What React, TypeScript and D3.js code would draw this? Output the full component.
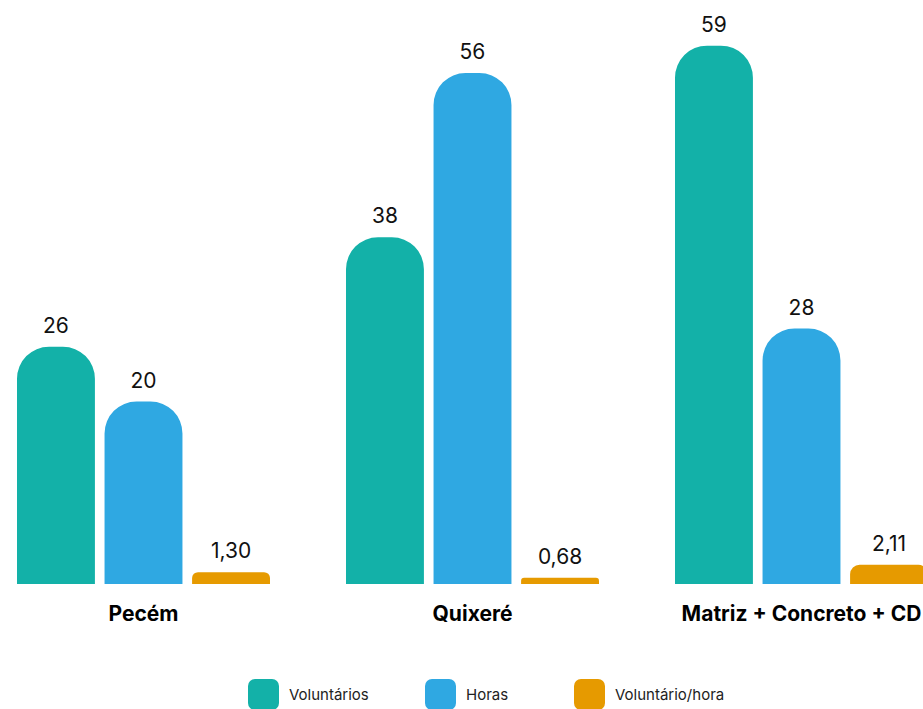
import { scaleBand, scaleLinear } from "d3";

const categories = ["Pecém", "Quixeré", "Matriz + Concreto + CD"];
const seriesNames = ["Voluntários", "Horas", "Voluntário/hora"];
const voluntarios = [26, 38, 59];
const horas = [20, 56, 28];
const voluntarioHora = [1.3, 0.68, 2.11];
const seriesValues = [voluntarios, horas, voluntarioHora];
const colors = ["#13b1a8", "#2fa8e2", "#e69a00"];

const W = 923;
const H = 709;
const FONT = "Inter, 'Noto Sans', sans-serif";

const fmt = (v: number, s: number) =>
  s === 2 ? v.toFixed(2).replace(".", ",") : String(v);

// bar with rounded top corners only
function topRounded(x: number, y: number, w: number, h: number, r: number) {
  const rr = Math.min(r, w / 2, h / 2);
  const b = y + h;
  return `M${x},${b}V${y + rr}A${rr},${rr} 0 0 1 ${x + rr},${y}H${x + w - rr}A${rr},${rr} 0 0 1 ${x + w},${y + rr}V${b}Z`;
}

export default function App() {
  const x0 = scaleBand<string>()
    .domain(categories)
    .range([-21, 966])
    .paddingInner(0.231)
    .paddingOuter(0.1155);
  const x1 = scaleBand<string>()
    .domain(seriesNames)
    .range([0, x0.bandwidth()])
    .paddingInner(0.11);
  const y = scaleLinear().domain([0, 64]).range([584, 0]);

  const legendX = [248, 425, 574];

  return (
    <div style={{ position: "absolute", left: 0, top: 0 }}>
      <svg width={W} height={H} style={{ display: "block", background: "#fff" }}>
        {categories.map((c, ci) => (
          <g key={c} transform={`translate(${x0(c)},0)`}>
            {seriesNames.map((s, si) => {
              const v = seriesValues[si][ci];
              const bx = x1(s) ?? 0;
              const top = y(v);
              return (
                <g key={s}>
                  <path
                    d={topRounded(bx, top, x1.bandwidth(), y(0) - top, 32)}
                    fill={colors[si]}
                  />
                  <text
                    x={bx + x1.bandwidth() / 2}
                    y={top - 14}
                    textAnchor="middle"
                    fontFamily={FONT}
                    fontSize={21}
                    fill="#111"
                  >
                    {fmt(v, si)}
                  </text>
                </g>
              );
            })}
            <text
              x={x0.bandwidth() / 2}
              y={621}
              textAnchor="middle"
              fontFamily={FONT}
              fontWeight={700}
              fontSize={21}
              fill="#000"
            >
              {c}
            </text>
          </g>
        ))}

        {/* Legend */}
        {seriesNames.map((s, si) => (
          <g key={s} transform={`translate(${legendX[si]},679)`}>
            <rect width={31} height={31} rx={7} fill={colors[si]} />
            <text
              x={41}
              y={21}
              fontFamily={FONT}
              fontSize={15}
              fill="#222"
            >
              {s}
            </text>
          </g>
        ))}
      </svg>
    </div>
  );
}
